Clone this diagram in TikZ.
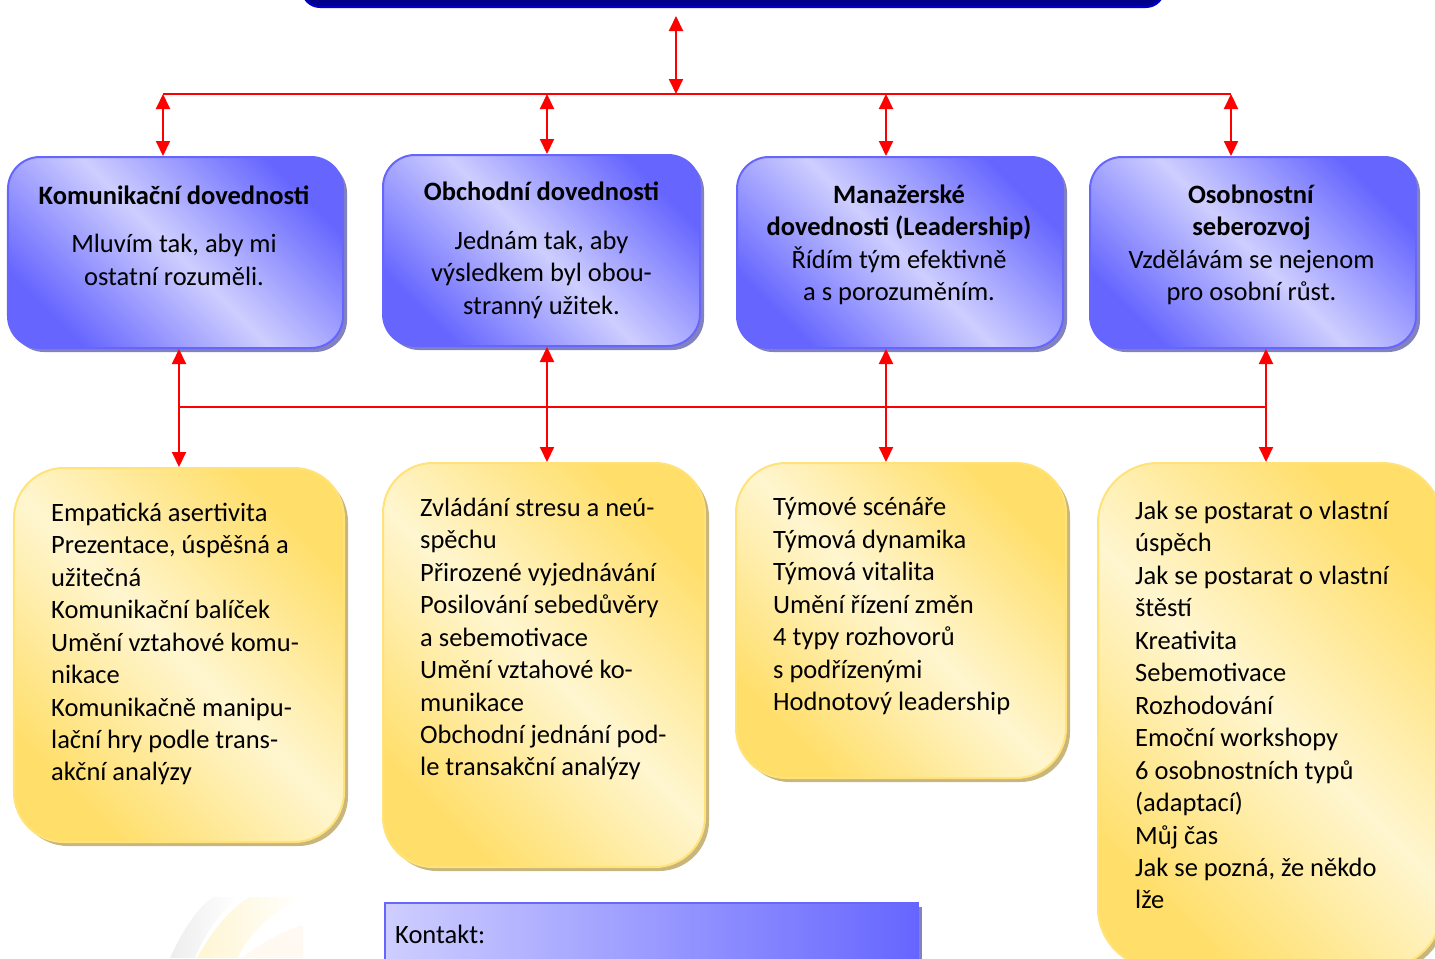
\documentclass[tikz,border=0pt]{standalone}
\usepackage{fontspec}
\setmainfont{Carlito}
\usetikzlibrary{arrows.meta,shadows}
\definecolor{boxblue}{RGB}{102,102,255}
\definecolor{boxlight}{RGB}{206,206,255}
\definecolor{boxshadow}{RGB}{130,130,190}
\definecolor{headblue}{RGB}{0,0,140}
\definecolor{headline}{RGB}{0,0,205}
\definecolor{gold}{RGB}{255,222,105}
\definecolor{cream}{RGB}{255,246,208}
\definecolor{goldline}{RGB}{255,226,120}
\definecolor{goldshadow}{RGB}{200,182,125}
\begin{document}
\begin{tikzpicture}[x=1bp,y=-1bp,
  skill/.style={rounded corners=32bp,draw=boxblue,line width=2bp,
    top color=boxblue,bottom color=boxblue,middle color=boxlight,shading angle=-45,
    drop shadow={shadow xshift=4bp,shadow yshift=-4bp,fill=boxshadow,opacity=1},
    minimum height=191bp},
  topic/.style={rounded corners=50bp,draw=goldline,line width=2bp,
    top color=gold,bottom color=gold,middle color=cream,shading angle=-45,
    drop shadow={shadow xshift=4bp,shadow yshift=-4bp,fill=goldshadow,opacity=1}},
  txt/.style={font=\fontsize{26.6}{32.6}\selectfont,inner sep=0pt},
  link/.style={red,line width=2bp,{Triangle[width=14bp,length=15bp]}-{Triangle[width=14bp,length=15bp]}},
  bus/.style={red,line width=2bp}]
\useasboundingbox (0,0) rectangle (1435,958);
\clip (0,0) rectangle (1435,958);
% faint swoosh in the corner
\shade[left color=gray!14,right color=white] (170,958) .. controls (185,925) and (200,906) .. (213,897) -- (238,897) .. controls (218,915) and (203,937) .. (195,958) -- cycle;
\shade[left color=gold!30,right color=white] (197,958) .. controls (215,925) and (235,905) .. (250,897) -- (305,897) .. controls (270,912) and (248,935) .. (238,958) -- cycle;
\fill[orange!5] (242,958) .. controls (262,942) and (285,930) .. (303,925) -- (303,958) -- cycle;
% title bar
\node[draw=headline,fill=headblue,line width=2bp,rounded corners=18bp,minimum width=862bp,minimum height=60bp] (head) at (733,-23) {};
% skill boxes
\node[skill,minimum width=335bp] (b1) at (175.5,252.5) {};
\node[skill,minimum width=317bp] (b2) at (541.5,250.5) {};
\node[skill,minimum width=326bp] (b3) at (900,252.5) {};
\node[skill,minimum width=326bp] (b4) at (1253,252.5) {};
\node[txt,align=center] (t1) at (174,236) {\textbf{Komunikační dovednosti}\\[15.5bp]Mluvím tak, aby mi\\ostatní rozuměli.};
\node[txt,align=center] (t2) at (541.5,250) {\textbf{Obchodní dovednosti}\\[16.5bp]Jednám tak, aby\\výsledkem byl obou-\\stranný užitek.};
\node[txt,align=center] (t3) at (899,245) {\textbf{Manažerské}\\\textbf{dovednosti (Leadership)}\\Řídím tým efektivně\\a s porozuměním.};
\node[txt,align=center] (t4) at (1251.5,245) {\textbf{Osobnostní}\\\textbf{seberozvoj}\\Vzdělávám se nejenom\\pro osobní růst.};
% topic boxes
\node[topic,minimum width=330bp,minimum height=374bp] (y1) at (179,655) {};
\node[topic,minimum width=322bp,minimum height=404bp] (y2) at (544,665) {};
\node[topic,minimum width=330bp,minimum height=315bp] (y3) at (901,620.5) {};
\node[topic,minimum width=344bp,minimum height=505bp,rounded corners=60bp] (y4) at (1270,715.5) {};
\node[txt,align=left,anchor=west] (l1) at (51,644) {Empatická asertivita\\Prezentace, úspěšná a\\užitečná\\Komunikační balíček\\Umění vztahové komu-\\nikace\\Komunikačně manipu-\\lační hry podle trans-\\akční analýzy};
\node[txt,align=left,anchor=west] (l2) at (420,639) {Zvládání stresu a neú-\\spěchu\\Přirozené vyjednávání\\Posilování sebedůvěry\\a sebemotivace\\Umění vztahové ko-\\munikace\\Obchodní jednání pod-\\le transakční analýzy};
\node[txt,align=left,anchor=west] (l3) at (773,606.5) {Týmové scénáře\\Týmová dynamika\\Týmová vitalita\\Umění řízení změn\\4 typy rozhovorů\\s podřízenými\\Hodnotový leadership};
\node[txt,align=left,anchor=west] (l4) at (1135,705) {Jak se postarat o vlastní\\úspěch\\Jak se postarat o vlastní\\štěstí\\Kreativita\\Sebemotivace\\Rozhodování\\Emoční workshopy\\6 osobnostních typů\\(adaptací)\\Můj čas\\Jak se pozná, že někdo\\lže};
% contact bar
\node[draw=boxblue,line width=2.5bp,left color=boxlight,right color=boxblue,
  drop shadow={shadow xshift=4bp,shadow yshift=-4bp,fill=boxshadow,opacity=1},
  minimum width=533bp,minimum height=87bp] (kon) at (651.5,946.5) {};
\node[txt,anchor=west] (kt) at (395,934) {Kontakt:};
% upper connectors
\coordinate (u0) at (676,94);
\coordinate (u1) at (163,94);
\coordinate (u2) at (547,94);
\coordinate (u3) at (886,94);
\coordinate (u4) at (1231,94);
\draw[bus] (u1) -- (u4);
\draw[link,shorten <=8bp] (head.south -| u0) -- (u0);
\draw[link] (u1) -- (u1 |- b1.north);
\draw[link] (u2) -- (u2 |- b2.north);
\draw[link] (u3) -- (u3 |- b3.north);
\draw[link] (u4) -- (u4 |- b4.north);
% lower connectors
\coordinate (d1) at (179,407);
\coordinate (d2) at (547,407);
\coordinate (d3) at (886,407);
\coordinate (d4) at (1266,407);
\draw[bus] (d1) -- (d4);
\draw[link] (d1 |- b1.south) -- (d1 |- y1.north);
\draw[link] (d2 |- b2.south) -- (d2 |- y2.north);
\draw[link] (d3 |- b3.south) -- (d3 |- y3.north);
\draw[link] (d4 |- b4.south) -- (d4 |- y4.north);
\end{tikzpicture}
\end{document}
